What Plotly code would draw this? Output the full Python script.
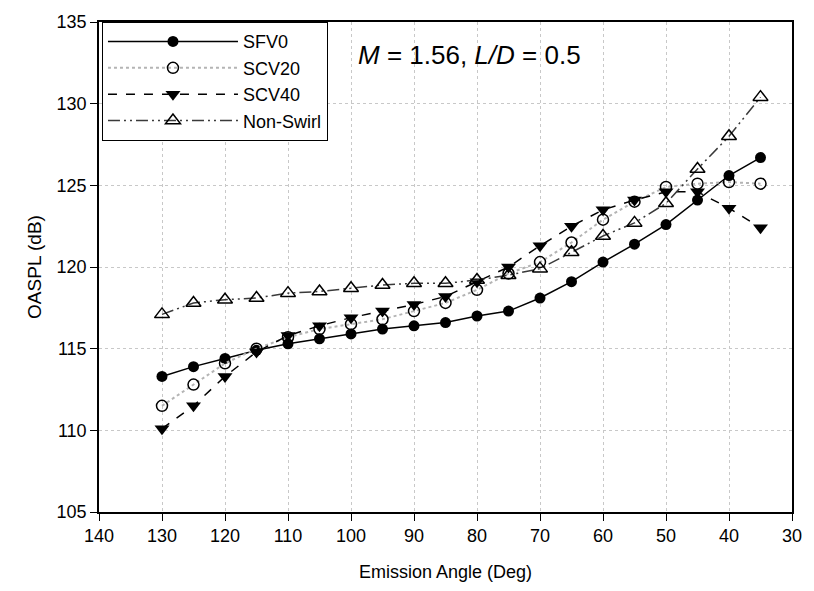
import plotly.graph_objects as go

angles = [130, 125, 120, 115, 110, 105, 100, 95, 90, 85, 80, 75, 70, 65, 60, 55, 50, 45, 40, 35]
sfv0 = [113.3, 113.9, 114.4, 114.9, 115.3, 115.6, 115.9, 116.2, 116.4, 116.6, 117.0, 117.3, 118.1, 119.1, 120.3, 121.4, 122.6, 124.1, 125.6, 126.7]
scv20 = [111.5, 112.8, 114.1, 115.0, 115.7, 116.2, 116.5, 116.8, 117.3, 117.8, 118.6, 119.6, 120.3, 121.5, 122.9, 124.0, 124.9, 125.1, 125.2, 125.1]
scv40 = [110.1, 111.5, 113.3, 114.8, 115.8, 116.4, 116.9, 117.3, 117.7, 118.2, 119.1, 120.0, 121.3, 122.5, 123.5, 124.1, 124.6, 124.6, 123.6, 122.4]
nonswirl = [117.1, 117.8, 118.0, 118.1, 118.4, 118.5, 118.7, 118.9, 119.0, 119.0, 119.2, 119.5, 119.9, 120.9, 121.9, 122.7, 123.9, 126.0, 128.0, 130.4]

x_ticks = list(range(140, 29, -10))
y_ticks = list(range(105, 136, 5))

FONT = "Liberation Sans, Arial, sans-serif"

fig = go.Figure()
fig.add_trace(go.Scatter(x=angles, y=sfv0, name="SFV0", mode="lines+markers",
                         line=dict(color="black", width=1.5, dash="solid"),
                         marker=dict(symbol="circle", size=11, color="black")))
fig.add_trace(go.Scatter(x=angles, y=scv20, name="SCV20", mode="lines+markers",
                         line=dict(color="#b4b4b4", width=2, dash="dot"),
                         marker=dict(symbol="circle-open", size=11, color="black", line=dict(width=1.5))))
fig.add_trace(go.Scatter(x=angles, y=scv40, name="SCV40", mode="lines+markers",
                         line=dict(color="black", width=1.5, dash="dash"),
                         marker=dict(symbol="triangle-down", size=13, color="black")))
fig.add_trace(go.Scatter(x=angles, y=nonswirl, name="Non-Swirl", mode="lines+markers",
                         line=dict(color="#3a3a3a", width=1.5, dash="12px,4px,2px,4px,2px,4px"),
                         marker=dict(symbol="triangle-up-open", size=13, color="black", line=dict(width=1.5))))

fig.add_annotation(x=0.534, y=0.933, xref="paper", yref="paper",
                   xanchor="center", yanchor="middle",
                   text="<i>M</i> = 1.56, <i>L/D</i> = 0.5", showarrow=False,
                   font=dict(size=26, color="black", family=FONT))

axis_common = dict(showline=True, linecolor="black", linewidth=1.5, mirror=True,
                   ticks="outside", ticklen=7, tickwidth=1.2, tickcolor="black",
                   showgrid=True, gridcolor="#c8c8c8", griddash="dot", gridwidth=1,
                   zeroline=False, tickfont=dict(size=18, color="black", family=FONT))

fig.update_xaxes(range=[140, 30], tickvals=x_ticks,
                 title=dict(text="Emission Angle (Deg)", font=dict(size=18, color="black", family=FONT), standoff=20),
                 **axis_common)
fig.update_yaxes(range=[105, 135], tickvals=y_ticks,
                 title=dict(text="OASPL (dB)", font=dict(size=19, color="black", family=FONT), standoff=10),
                 **axis_common)

fig.update_layout(
    width=814, height=591,
    margin=dict(l=99, r=12, t=20, b=79),
    plot_bgcolor="white", paper_bgcolor="white",
    font=dict(family=FONT, color="black"),
    showlegend=True,
    legend=dict(x=0.004, y=1.0, xanchor="left", yanchor="top",
                bgcolor="white", bordercolor="black", borderwidth=1.2,
                font=dict(size=18, color="black", family=FONT),
                itemwidth=130, tracegroupgap=0),
)

fig.write_html("out.html")
